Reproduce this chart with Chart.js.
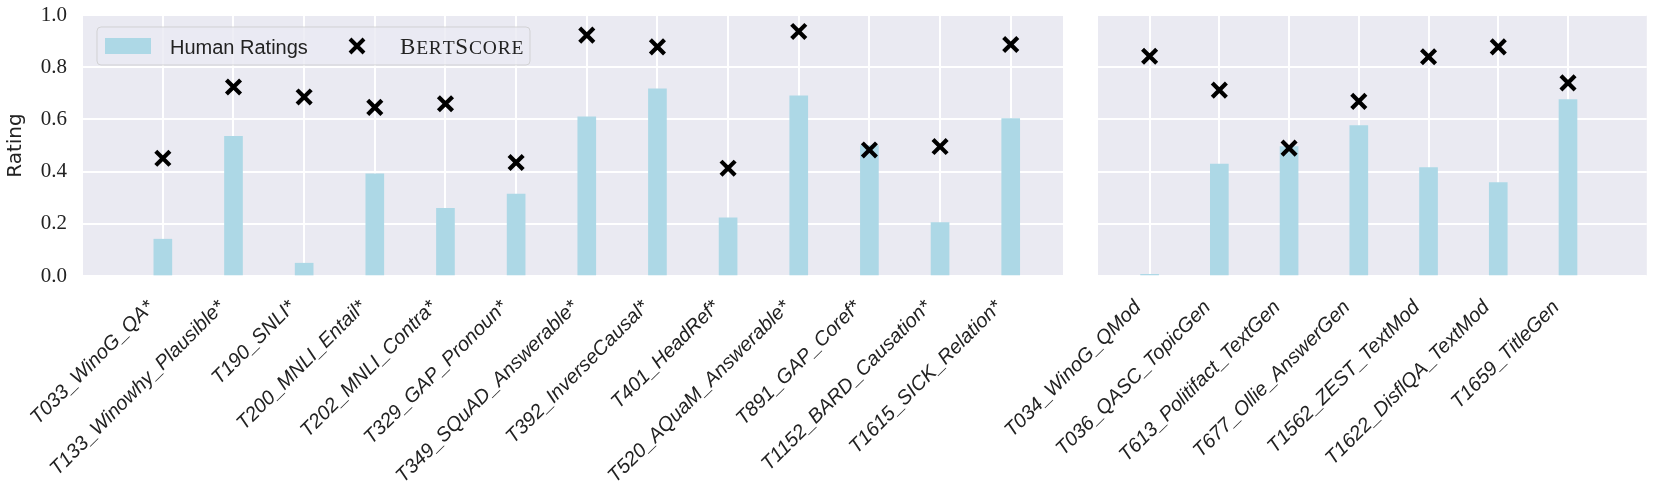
<!DOCTYPE html>
<html>
<head>
<meta charset="utf-8">
<script src="https://cdn.jsdelivr.net/npm/chart.js@4.4.1/dist/chart.umd.min.js"></script>
<style>
  body { margin: 0; background: #fff; }
  #wrap { position: relative; width: 1661px; height: 498px; }
  canvas { position: absolute; top: 0; }
</style>
</head>
<body>
<div id="wrap">
  <canvas id="left" width="1080" height="498" style="left:0"></canvas>
  <canvas id="right" width="761" height="498" style="left:900px"></canvas>
</div>
<script>
// left panel: tasks marked *
const leftTasks = ['T033_WinoG_QA*', 'T133_Winowhy_Plausible*', 'T190_SNLI*', 'T200_MNLI_Entail*',
    'T202_MNLI_Contra*', 'T329_GAP_Pronoun*', 'T349_SQuAD_Answerable*', 'T392_InverseCausal*',
    'T401_HeadRef*', 'T520_AQuaM_Answerable*', 'T891_GAP_Coref*', 'T1152_BARD_Causation*',
    'T1615_SICK_Relation*'];
const leftHuman = [0.141, 0.535, 0.049, 0.391, 0.259, 0.314, 0.610, 0.717, 0.223, 0.690, 0.500, 0.205, 0.603];
const leftBert = [0.451, 0.724, 0.686, 0.646, 0.660, 0.435, 0.923, 0.878, 0.413, 0.937, 0.483, 0.496, 0.887];

// right panel
const rightTasks = ['T034_WinoG_QMod', 'T036_QASC_TopicGen', 'T613_Politifact_TextGen', 'T677_Ollie_AnswerGen',
    'T1562_ZEST_TextMod', 'T1622_DisflQA_TextMod', 'T1659_TitleGen'];
const rightHuman = [0.006, 0.429, 0.496, 0.576, 0.415, 0.358, 0.676];
const rightBert = [0.842, 0.712, 0.490, 0.669, 0.840, 0.878, 0.740];

const yTicks = [0.0, 0.2, 0.4, 0.6, 0.8, 1.0];

const BAR_COLOR = '#ADD8E6';
const TEXT_COLOR = '#222222';

const bgPlugin = {
    id: 'bg',
    beforeDraw(chart) {
        const a = chart.chartArea;
        const ctx = chart.ctx;
        ctx.save();
        ctx.fillStyle = '#EAEAF2';
        ctx.fillRect(a.left, a.top, a.right - a.left, a.bottom - a.top);
        ctx.restore();
    }
};

// small caps by hand: capitals big, lower case as smaller capitals
function drawSmallCaps(ctx, text, x, y, big, small, family) {
    for (const ch of text) {
        const isCap = ch === ch.toUpperCase();
        ctx.font = (isCap ? big : small) + 'px ' + family;
        const c = ch.toUpperCase();
        ctx.fillText(c, x, y);
        x += ctx.measureText(c).width + 0.8;
    }
}

const legendPlugin = {
    id: 'boxLegend',
    afterDraw(chart) {
        const ctx = chart.ctx;
        const x0 = 97, y0 = 27, w = 433, h = 38, cy = y0 + h / 2;
        ctx.save();
        ctx.beginPath();
        ctx.roundRect(x0, y0, w, h, 4);
        ctx.fillStyle = 'rgba(234,234,242,0.8)';
        ctx.fill();
        ctx.strokeStyle = 'rgba(204,204,204,0.8)';
        ctx.lineWidth = 1;
        ctx.stroke();

        ctx.fillStyle = BAR_COLOR;
        ctx.fillRect(105, cy - 8, 46, 16);

        ctx.fillStyle = TEXT_COLOR;
        ctx.textBaseline = 'alphabetic';
        ctx.font = '20px "Liberation Sans"';
        ctx.fillText(chart.data.datasets[0].label, 170, cy + 8);

        const mx = 357, r = 7;
        ctx.strokeStyle = '#000';
        ctx.lineWidth = 4;
        ctx.beginPath();
        ctx.moveTo(mx - r, cy - r); ctx.lineTo(mx + r, cy + r);
        ctx.moveTo(mx + r, cy - r); ctx.lineTo(mx - r, cy + r);
        ctx.stroke();

        drawSmallCaps(ctx, chart.data.datasets[1].label, 400, cy + 8, 23, 19.5, '"Liberation Serif"');
        ctx.restore();
    }
};

function makePanel(canvasId, tasks, human, bert, opt) {
    const ctx = document.getElementById(canvasId).getContext('2d');
    return new Chart(ctx, {
        type: 'bar',
        data: {
            datasets: [
                {
                    type: 'bar',
                    label: 'Human Ratings',
                    data: human.map((v, i) => ({ x: i, y: v })),
                    backgroundColor: BAR_COLOR,
                    barThickness: 18,
                    order: 1
                },
                {
                    type: 'scatter',
                    label: 'BertScore',
                    data: bert.map((v, i) => ({ x: i, y: v })),
                    pointStyle: 'crossRot',
                    pointRadius: 10,
                    borderColor: '#000',
                    borderWidth: 4.2,
                    order: 0
                }
            ]
        },
        options: {
            responsive: false,
            animation: false,
            layout: { padding: { top: 15, right: opt.padRight, bottom: 0, left: 0 } },
            plugins: { legend: { display: false }, tooltip: { enabled: false } },
            scales: {
                x: {
                    type: 'linear',
                    offset: false,
                    min: opt.xmin,
                    max: opt.xmax,
                    afterBuildTicks: s => { s.ticks = tasks.map((_, i) => ({ value: i })); },
                    afterFit: s => { s.height = 222; s.paddingLeft = 0; s.paddingRight = 0; },
                    grid: { color: '#ffffff', lineWidth: 2, drawTicks: false, offset: false },
                    border: { display: false },
                    ticks: {
                        autoSkip: false,
                        minRotation: 45,
                        maxRotation: 45,
                        padding: 8,
                        color: TEXT_COLOR,
                        font: { family: 'Liberation Sans', style: 'italic', size: 20 },
                        // trailing spaces push the rotated text a little down-left of the tick
                        callback: v => tasks[v] + '   '
                    }
                },
                y: {
                    min: 0,
                    max: 1,
                    afterBuildTicks: s => { s.ticks = yTicks.map(v => ({ value: v })); },
                    afterFit: s => { s.width = opt.yWidth; s.paddingTop = 0; s.paddingBottom = 0; },
                    grid: { color: '#ffffff', lineWidth: 2, drawTicks: false },
                    border: { display: false },
                    title: {
                        display: opt.showY,
                        text: 'Rating',
                        color: TEXT_COLOR,
                        font: { family: 'DejaVu Sans', size: 20 },
                        padding: { top: 4, bottom: 0 }
                    },
                    ticks: {
                        display: opt.showY,
                        padding: 16,
                        color: TEXT_COLOR,
                        font: { family: 'Liberation Serif', size: 21 },
                        callback: v => v.toFixed(1)
                    }
                }
            }
        },
        plugins: opt.legend ? [bgPlugin, legendPlugin] : [bgPlugin]
    });
}

makePanel('left', leftTasks, leftHuman, leftBert,
    { xmin: -1.13, xmax: 12.74, padRight: 17, yWidth: 83, showY: true, legend: true });
makePanel('right', rightTasks, rightHuman, rightBert,
    { xmin: -0.74, xmax: 7.13, padRight: 7, yWidth: 198, showY: false, legend: false });
</script>
</body>
</html>
